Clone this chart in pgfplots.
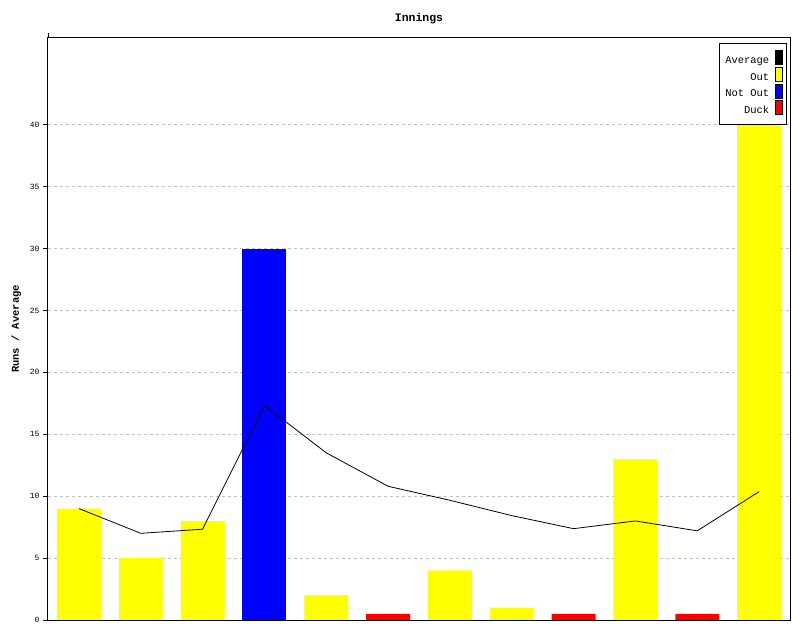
\documentclass[border=0pt]{standalone}
\usepackage{fontspec}
\setmainfont{Liberation Mono}
\usepackage{pgfplots}
\pgfplotsset{compat=1.18}

\definecolor{outY}{RGB}{255,255,0}
\definecolor{notB}{RGB}{0,0,255}
\definecolor{duckR}{RGB}{255,0,0}
\definecolor{gridG}{RGB}{192,192,192}

\newcommand{\swatch}[1]{\draw[fill=#1,draw=black,line width=0.8bp] (0bp,-4bp) rectangle (7bp,10bp);}

\begin{document}
\begin{tikzpicture}
\begin{axis}[
  scale only axis,
  width=742bp, height=582bp,
  xmin=0.5, xmax=12.5,
  ymin=0, ymax=47,
  ytick={0,5,...,40},
  xtick=\empty,
  axis line style={line width=1bp},
  tick style={black,line width=1bp},
  tick align=outside,
  major tick length=5bp,
  ytick pos=left,
  ymajorgrids,
  grid style={gridG,line width=1bp,dash pattern=on 3bp off 3bp},
  /pgf/number format/assume math mode=true,
  tick label style={font=\fontsize{8}{8}\selectfont},
  title={\textbf{Innings}},
  title style={font=\fontsize{11.5}{13}\selectfont, yshift=5bp},
  ylabel={\textbf{Runs / Average}},
  ylabel style={font=\fontsize{10.5}{12}\selectfont, yshift=2bp},
  legend style={at={(1,1)}, xshift=-3bp, yshift=-5bp, anchor=north east,
    font=\fontsize{10.5}{12}\selectfont, draw=black, line width=1bp,
    row sep=0bp, column sep=3.5bp, inner xsep=4bp, inner ysep=7bp},
  legend cell align=right,
  legend plot pos=right,
]
\addlegendimage{legend image code/.code={\swatch{black}}}
\addlegendentry{Average}
\addlegendimage{legend image code/.code={\swatch{outY}}}
\addlegendentry{Out}
\addlegendimage{legend image code/.code={\swatch{notB}}}
\addlegendentry{Not Out}
\addlegendimage{legend image code/.code={\swatch{duckR}}}
\addlegendentry{Duck}

% out
\addplot[ybar, bar width=0.71, bar shift=0, fill=outY, draw=none, forget plot]
  coordinates {(1,9) (2,5) (3,8) (5,2) (7,4) (8,1) (10,13) (12,42)};
% not out
\addplot[ybar, bar width=0.71, bar shift=0, fill=notB, draw=none, forget plot]
  coordinates {(4,30)};
% duck
\addplot[ybar, bar width=0.71, bar shift=0, fill=duckR, draw=none, forget plot]
  coordinates {(6,0.5) (9,0.5) (11,0.5)};
% average
\addplot[sharp plot, black, line width=0.8bp, mark=none, forget plot]
  coordinates {(1,9) (2,7) (3,7.333) (4,17.333) (5,13.5) (6,10.8) (7,9.667)
               (8,8.429) (9,7.375) (10,8) (11,7.2) (12,10.364)};
\end{axis}
\draw[line width=1bp] (current axis.north west) -- ++(0,5bp);
\pgfresetboundingbox
\useasboundingbox ([shift={(-48bp,-20bp)}]current axis.south west)
  rectangle ([shift={(10bp,38bp)}]current axis.north east);
\end{tikzpicture}
\end{document}
